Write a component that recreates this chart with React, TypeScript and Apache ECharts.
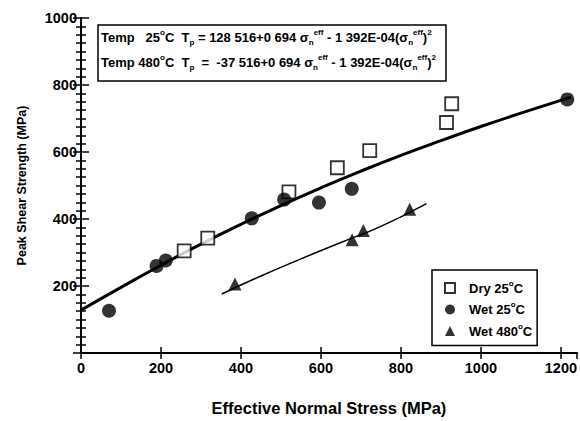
import React, { useEffect, useRef } from "react";
import * as echarts from "echarts";

const dry25: [number, number][] = [
  [258, 305], [317, 343], [520, 481], [641, 553], [722, 604], [914, 688], [927, 744],
];
const wet25: [number, number][] = [
  [70, 126], [189, 260], [212, 276], [427, 402], [508, 458], [595, 449], [677, 490], [1216, 757],
];
const wet480: [number, number][] = [
  [385, 206], [678, 338], [706, 366], [822, 429],
];
const fit25: [number, number][] = [
  [0, 128], [100, 196], [200, 262], [300, 325], [400, 384], [500, 440], [600, 493],
  [700, 543], [800, 590], [900, 634], [1000, 676], [1100, 716], [1225, 764],
];
const fit480: [number, number][] = [
  [352, 176], [450, 230], [550, 281], [650, 330], [750, 378], [864, 446],
];
const legendNames = ["Dry 25", "Wet 25", "Wet 480"];

const FONT = "Liberation Sans";

export default function App() {
  const ref = useRef<HTMLDivElement>(null);
  useEffect(() => {
    if (!ref.current) return;
    const chart = echarts.init(ref.current, null, { renderer: "svg" });
    const axisLine = { show: true, lineStyle: { color: "#000", width: 2 } };
    const labelStyle = { color: "#000", fontFamily: FONT, fontWeight: "bold" as const, fontSize: 14.5 };
    const rich = {
      t: { fontFamily: FONT, fontWeight: "bold", fontSize: 13, color: "#000", lineHeight: 18 },
      f: { fontFamily: FONT, fontWeight: "bold", fontSize: 13, color: "#000", lineHeight: 18, padding: [0, 0, 0, 9] },
      s: { fontFamily: FONT, fontWeight: "bold", fontSize: 8, color: "#000", verticalAlign: "top" },
      b: { fontFamily: FONT, fontWeight: "bold", fontSize: 8, color: "#000", verticalAlign: "bottom" },
    };
    const eq = (prefix: string, mid: string) =>
      `{t|${prefix}}{s|o}{t|C  T}{b|p}{t|${mid}σ}{b|n}{s|eff}{t| - 1 392E-04(σ}{b|n}{s|eff}{t|)}{s|2}`;
    const ticks = { show: true, inside: true, length: 8, lineStyle: { color: "#000", width: 1.5 } };
    const minor = { show: true, splitNumber: 8, length: 5, lineStyle: { color: "#000", width: 1.5 } };
    const option: any = {
      animation: false,
      backgroundColor: "#fff",
      grid: { left: 81, right: 3, top: 18, bottom: 63, containLabel: false },
      xAxis: [
        {
          type: "value", min: 0, max: 1240, interval: 200, position: "bottom",
          axisLine, splitLine: { show: false },
          axisTick: { ...ticks, length: 6 },
          axisLabel: { ...labelStyle, margin: 7, showMaxLabel: false, formatter: (v: number) => String(v) },
          name: "Effective Normal Stress (MPa)", nameLocation: "middle", nameGap: 46,
          nameTextStyle: { color: "#000", fontFamily: FONT, fontWeight: "bold", fontSize: 16.5 },
        },
        {
          type: "value", min: 0, max: 1240, interval: 200, position: "top",
          axisLine, splitLine: { show: false },
          axisTick: { ...ticks, length: 6 },
          axisLabel: { show: false },
        },
      ],
      yAxis: [
        {
          type: "value", min: 0, max: 1000, interval: 200, position: "left",
          axisLine, splitLine: { show: false },
          axisTick: ticks, minorTick: minor,
          axisLabel: { ...labelStyle, margin: 4, showMinLabel: false, formatter: (v: number) => String(v) },
          name: "Peak Shear Strength (MPa)", nameLocation: "middle", nameGap: 53,
          nameTextStyle: { color: "#000", fontFamily: FONT, fontWeight: "bold", fontSize: 12.5 },
        },
        {
          type: "value", min: 0, max: 1000, interval: 200, position: "right",
          axisLine, splitLine: { show: false },
          axisTick: ticks, minorTick: minor,
          axisLabel: { show: false },
        },
      ],
      legend: {
        data: legendNames,
        orient: "vertical",
        left: 432, top: 270,
        padding: [9, 5, 8, 12],
        itemWidth: 10, itemHeight: 10, itemGap: 6,
        borderColor: "#000", borderWidth: 1.5, backgroundColor: "#fff",
        formatter: (name: string) => `{f|${name}}{s|o}{t|C}`,
        textStyle: { rich, fontFamily: FONT, fontWeight: "bold", fontSize: 13, color: "#000" },
      },
      series: [
        {
          name: "fit25", type: "line", data: fit25, smooth: true, showSymbol: false, silent: true,
          lineStyle: { color: "#000", width: 3 }, z: 1,
        },
        {
          name: "fit480", type: "line", data: fit480, smooth: true, showSymbol: false, silent: true,
          lineStyle: { color: "#000", width: 1.5 }, z: 1,
        },
        {
          name: "Dry 25", type: "scatter", data: dry25, symbol: "rect", symbolSize: 13,
          itemStyle: { color: "#fff", borderColor: "#000", borderWidth: 1.8 }, z: 3,
        },
        {
          name: "Wet 25", type: "scatter", data: wet25, symbol: "circle", symbolSize: 14,
          itemStyle: { color: "#000" }, z: 3,
        },
        {
          name: "Wet 480", type: "scatter", data: wet480, symbol: "triangle", symbolSize: 13,
          itemStyle: { color: "#000" }, z: 3,
        },
      ],
      graphic: [
        {
          type: "rect", z: 10,
          shape: { x: 98, y: 25, width: 348, height: 56 },
          style: { fill: "#fff", stroke: "#000", lineWidth: 1.5 },
        },
        {
          type: "text", z: 11, x: 101, y: 37,
          style: { text: eq("Temp   25", " = 128 516+0 694 "), rich, verticalAlign: "middle", align: "left" },
        },
        {
          type: "text", z: 11, x: 101, y: 62,
          style: { text: eq("Temp 480", "  =  -37 516+0 694 "), rich, verticalAlign: "middle", align: "left" },
        },
      ],
    };
    chart.setOption(option);
    return () => chart.dispose();
  }, []);
  return <div ref={ref} style={{ position: "fixed", left: 0, top: 0, width: 580, height: 421 }} />;
}
